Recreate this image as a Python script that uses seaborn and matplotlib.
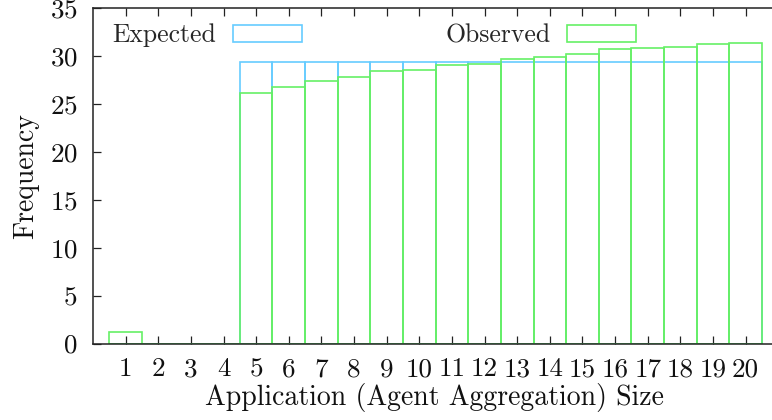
import matplotlib
matplotlib.use("Agg")

import numpy as np
import pandas as pd
import matplotlib.pyplot as plt
import seaborn as sns

rozmiary = [str(i) for i in range(1, 21)]
oczekiwane = [0, 0, 0, 0] + [29.4] * 16
obserwowane = [1.2, 0, 0, 0, 26.1, 26.8, 27.4, 27.8, 28.4, 28.5,
               29.1, 29.2, 29.7, 29.9, 30.2, 30.7, 30.8, 30.9, 31.2, 31.3]

sns.set_theme(style="ticks")
plt.rcParams["font.family"] = ["cmr10", "DejaVu Serif"]
plt.rcParams["axes.formatter.use_mathtext"] = True
plt.rcParams["font.size"] = 19.5

niebieski = "#66ccff"
zielony = "#66f066"

fig = plt.figure(figsize=(7.72, 4.2), dpi=100)
ax = fig.add_axes([93 / 772, 76.5 / 420, (775 - 93) / 772, (343.5 - 8) / 420])

sns.barplot(x=rozmiary, y=oczekiwane, order=rozmiary, fill=False, color=niebieski,
            width=1, linewidth=1.2, ax=ax, label="Expected")
sns.barplot(x=rozmiary, y=obserwowane, order=rozmiary, fill=False, color=zielony,
            width=1, linewidth=1.2, ax=ax, label="Observed")

ax.set_xlim(-1, 19.9)
ax.set_ylim(0, 35)
ax.set_yticks(range(0, 36, 5))

for s in ["top", "left", "bottom"]:
    ax.spines[s].set_visible(True)
    ax.spines[s].set_color("#222222")
    ax.spines[s].set_linewidth(1.1)
ax.spines["right"].set_visible(False)

ax.tick_params(axis="both", direction="in", length=6, width=0.9, color="#222222",
               labelsize=19.5, labelcolor="#111111")
ax.tick_params(axis="x", top=True, pad=10)
ax.tick_params(axis="y", right=False, pad=11)

ax.set_xlabel("Application (Agent Aggregation) Size", fontsize=20, labelpad=1, color="#111111")
ax.set_ylabel("Frequency", fontsize=20, labelpad=8, color="#111111")

uchwyty, etykiety = ax.get_legend_handles_labels()
ax.legend(uchwyty, etykiety, ncol=2, markerfirst=False, frameon=False,
          loc="upper left", bbox_to_anchor=(-0.005, 1.022), handlelength=2.65,
          handleheight=0.62, handletextpad=0.66, columnspacing=5.6, fontsize=18.5)

fig.savefig("out.png", dpi=100)
